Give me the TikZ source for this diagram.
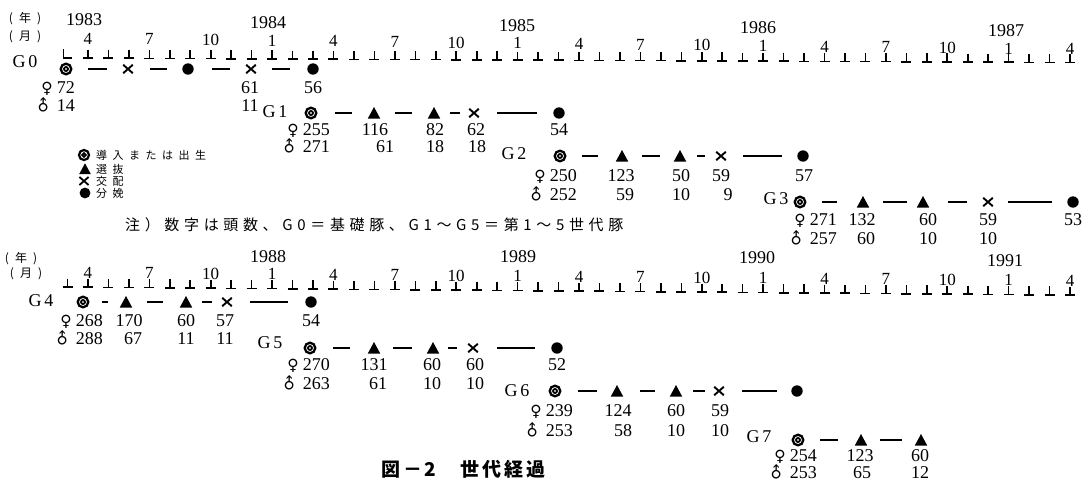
\documentclass[tikz,border=0pt]{standalone}
\usepackage{fontspec}
\usepackage{graphicx}
\usetikzlibrary{calc}
\setmainfont{Liberation Serif}
\newfontfamily\jpfont{Noto Sans CJK JP}
\newfontfamily\jplegend[LetterSpace=50]{Noto Sans CJK JP}
\newfontfamily\jpnote[LetterSpace=31]{Noto Sans CJK JP}
\newfontfamily\jpcap[LetterSpace=15]{Noto Sans CJK JP}
\newfontfamily\symfont{DejaVu Sans}
\newcommand\femsym{{\symfont\fontsize{15.5}{15.5}\selectfont ♀}}
\newcommand\malsym{{\symfont\fontsize{15.5}{15.5}\selectfont\rotatebox[origin=c]{45}{♂}}}
\newcommand\dashc[4]{\draw[dl, shorten <=#3pt, shorten >=#4pt] (#1.center) -- (#2.center);}
\def\symsc{1}
\tikzset{
  num/.style={inner sep=0pt, anchor=base, font=\fontsize{18}{18}\selectfont},
  sexl/.style={inner sep=0pt, anchor=base east, font=\fontsize{18}{18}\selectfont},
  glab/.style={inner sep=0pt, font=\fontsize{18}{18}\selectfont},
  yearl/.style={inner sep=0pt, font=\fontsize{18}{18}\selectfont},
  monl/.style={inner sep=0pt, font=\fontsize{17}{17}\selectfont},
  unitl/.style={inner sep=0pt, font=\jpfont\fontsize{12}{12}\selectfont},
  legl/.style={inner sep=0pt, anchor=west, font=\jplegend\fontsize{11}{11}\selectfont},
  sym/.style={rectangle, minimum width=16pt, minimum height=16pt, inner sep=0pt},
  ring/.style={sym, path picture={
    \draw[line width=\symsc*2.3pt] (path picture bounding box.center) circle[radius=\symsc*5.3pt];
    \draw[line width=\symsc*1.8pt] (path picture bounding box.center) circle[radius=\symsc*2.0pt];}},
  tri/.style={sym, path picture={
    \fill ($(path picture bounding box.center)+({-6.2pt*\symsc},{-5.5pt*\symsc})$) -- ++({12.4pt*\symsc},0pt) -- ++({-6.2pt*\symsc},{11.5pt*\symsc}) -- cycle;}},
  crs/.style={sym, path picture={
    \draw[line width=\symsc*1.9pt] ($(path picture bounding box.center)+({-4.8pt*\symsc},{-4.2pt*\symsc})$) -- ($(path picture bounding box.center)+({4.8pt*\symsc},{4.2pt*\symsc})$)
      ($(path picture bounding box.center)+({-4.8pt*\symsc},{4.2pt*\symsc})$) -- ($(path picture bounding box.center)+({4.8pt*\symsc},{-4.2pt*\symsc})$);}},
  dot/.style={sym, path picture={
    \fill (path picture bounding box.center) circle[radius=\symsc*5.7pt];}},
  tick/.style={line width=1.6pt},
  dl/.style={line width=1.7pt},
}
\begin{document}
\begin{tikzpicture}[x=1pt,y=-1pt]
\useasboundingbox[fill=white] (0,0) rectangle (1086,482);

% ---------- top time axis ----------
\node[unitl] (ny1) at (25,19) {(\hspace{6pt}年\hspace{6pt})};
\node[unitl] (nm1) at (25,37) {(\hspace{6pt}月\hspace{6pt})};
\node[yearl] (y83) at (84,20) {1983};
\node[yearl] (y84) at (268,23) {1984};
\node[yearl] (y85) at (517,26) {1985};
\node[yearl] (y86) at (758,28) {1986};
\node[yearl] (y87) at (1006,31) {1987};
\draw[tick] (63.5,49) -- (63.5,58) -- (72,58);
\foreach \k in {1,...,49}{
  \pgfmathsetmacro\tx{67.5+20.46*\k}
  \pgfmathsetmacro\ty{58+0.0045*(\tx-65)}
  \draw[tick] (\tx,\ty-8.5) -- (\tx,\ty) (\tx-5,\ty) -- (\tx+5,\ty);
}
\foreach \k/\m in {1/4,4/7,7/10,10/1,13/4,16/7,19/10,22/1,25/4,28/7,31/10,34/1,37/4,40/7,43/10,46/1,49/4}{
  \pgfmathsetmacro\tx{67.5+20.46*\k}
  \pgfmathsetmacro\ty{38.5+0.011*(\tx-88)}
  \node[monl] (tm\k) at (\tx,\ty) {\m};
}

% ---------- bottom time axis ----------
\node[unitl] (ny2) at (21,259) {(\hspace{6pt}年\hspace{6pt})};
\node[unitl] (nm2) at (26,274) {(\hspace{6pt}月\hspace{6pt})};
\node[yearl] (y88) at (268,257) {1988};
\node[yearl] (y89) at (518,257) {1989};
\node[yearl] (y90) at (757,258) {1990};
\node[yearl] (y91) at (1005,261) {1991};
\foreach \k in {0,...,49}{
  \pgfmathsetmacro\tx{67.5+20.46*\k}
  \pgfmathsetmacro\ty{287+0.008*(\tx-65)}
  \draw[tick] (\tx,\ty-8.5) -- (\tx,\ty) (\tx-5,\ty) -- (\tx+5,\ty);
}
\foreach \k/\m in {1/4,4/7,7/10,10/1,13/4,16/7,19/10,22/1,25/4,28/7,31/10,34/1,37/4,40/7,43/10,46/1,49/4}{
  \pgfmathsetmacro\tx{67.5+20.46*\k}
  \pgfmathsetmacro\ty{272.5+0.0085*(\tx-86)}
  \node[monl] (bm\k) at (\tx,\ty) {\m};
}

% ---------- G0 ----------
\node[glab] (G0) at (25,62) {G\,0};
\node[ring] (g0s1) at (66,69) {};
\node[crs]  (g0s2) at (128,69) {};
\node[dot]  (g0s3) at (188,69) {};
\node[crs]  (g0s4) at (251,69) {};
\node[dot]  (g0s5) at (313,69) {};
\dashc{g0s1}{g0s2}{22}{21} \dashc{g0s2}{g0s3}{22}{21}
\dashc{g0s3}{g0s4}{24}{21} \dashc{g0s4}{g0s5}{21}{23}
\node[sexl] (g0f) at (75,93) {\femsym\hspace{4pt}72};
\node[sexl] (g0m) at (75,111) {\malsym\hspace{4pt}14};
\node[num] (g0a) at (250,93) {61};
\node[num] (g0b) at (250,111) {11};
\node[num] (g0c) at (313,93) {56};

% ---------- G1 ----------
\node[glab] (G1) at (275,112) {G\,1};
\node[ring] (g1s1) at (311,113) {};
\node[tri]  (g1s2) at (374,113) {};
\node[tri]  (g1s3) at (434,113) {};
\node[crs]  (g1s4) at (474,113) {};
\node[dot]  (g1s5) at (559,113) {};
\dashc{g1s1}{g1s2}{24}{22} \dashc{g1s2}{g1s3}{21}{22}
\dashc{g1s3}{g1s4}{16}{14} \dashc{g1s4}{g1s5}{23}{22}
\node[sexl] (g1f) at (330,135) {\femsym\hspace{4pt}255};
\node[sexl] (g1m) at (330,152) {\malsym\hspace{4pt}271};
\node[num] (g1a) at (375,135) {116};
\node[num] (g1b) at (385,152) {61};
\node[num] (g1c) at (435,135) {82};
\node[num] (g1d) at (435,152) {18};
\node[num] (g1e) at (476,135) {62};
\node[num] (g1g) at (477,152) {18};
\node[num] (g1h) at (559,135) {54};

% ---------- G2 ----------
\node[glab] (G2) at (514,154) {G\,2};
\node[ring] (g2s1) at (560,156) {};
\node[tri]  (g2s2) at (622,156) {};
\node[tri]  (g2s3) at (680,156) {};
\node[crs]  (g2s4) at (721,156) {};
\node[dot]  (g2s5) at (803,156) {};
\dashc{g2s1}{g2s2}{22}{24} \dashc{g2s2}{g2s3}{20}{20}
\dashc{g2s3}{g2s4}{17}{16} \dashc{g2s4}{g2s5}{22}{21}
\node[sexl] (g2f) at (577,181) {\femsym\hspace{4pt}250};
\node[sexl] (g2m) at (577,200) {\malsym\hspace{4pt}252};
\node[num] (g2a) at (621,181) {123};
\node[num] (g2b) at (625,200) {59};
\node[num] (g2c) at (681,181) {50};
\node[num] (g2d) at (681,200) {10};
\node[num] (g2e) at (721,181) {59};
\node[num] (g2g) at (728,200) {9};
\node[num] (g2h) at (804,181) {57};

% ---------- G3 ----------
\node[glab] (G3) at (776,199) {G\,3};
\node[ring] (g3s1) at (800,202) {};
\node[tri]  (g3s2) at (863,202) {};
\node[tri]  (g3s3) at (923,202) {};
\node[crs]  (g3s4) at (988,202) {};
\node[dot]  (g3s5) at (1073,202) {};
\dashc{g3s1}{g3s2}{22}{26} \dashc{g3s2}{g3s3}{20}{16}
\dashc{g3s3}{g3s4}{25}{21} \dashc{g3s4}{g3s5}{20}{21}
\node[sexl] (g3f) at (837,225) {\femsym\hspace{4pt}271};
\node[sexl] (g3m) at (837,244) {\malsym\hspace{4pt}257};
\node[num] (g3a) at (862,225) {132};
\node[num] (g3b) at (866,244) {60};
\node[num] (g3c) at (928,225) {60};
\node[num] (g3d) at (928,244) {10};
\node[num] (g3e) at (988,225) {59};
\node[num] (g3g) at (988,244) {10};
\node[num] (g3h) at (1073,225) {53};

% ---------- legend and note ----------
\begin{scope}
\def\symsc{0.95}
\node[ring] (lg1) at (84,155) {};
\node[tri]  (lg2) at (85,169) {};
\node[crs]  (lg3) at (84,181) {};
\node[dot]  (lg4) at (85,193) {};
\end{scope}
\node[legl] (lt1) at (96,155) {導入または出生};
\node[legl] (lt2) at (96,169) {選抜};
\node[legl] (lt3) at (96,181) {交配};
\node[legl] (lt4) at (96,193) {分娩};
\node[inner sep=0pt, anchor=west, font=\jpnote\fontsize{15}{15}\selectfont] (note) at (125,225)
  {注）数字は頭数、G0＝基礎豚、G1～G5＝第1～5世代豚};

% ---------- G4 ----------
\node[glab] (G4) at (41,301) {G\,4};
\node[ring] (g4s1) at (83,302) {};
\node[tri]  (g4s2) at (126,302) {};
\node[tri]  (g4s3) at (186,302) {};
\node[crs]  (g4s4) at (227,302) {};
\node[dot]  (g4s5) at (311,302) {};
\dashc{g4s1}{g4s2}{19}{18} \dashc{g4s2}{g4s3}{21}{23}
\dashc{g4s3}{g4s4}{16}{15} \dashc{g4s4}{g4s5}{23}{23}
\node[sexl] (g4f) at (103,326) {\femsym\hspace{4pt}268};
\node[sexl] (g4m) at (103,344) {\malsym\hspace{4pt}288};
\node[num] (g4a) at (129,326) {170};
\node[num] (g4b) at (133,344) {67};
\node[num] (g4c) at (186,326) {60};
\node[num] (g4d) at (186,344) {11};
\node[num] (g4e) at (225,326) {57};
\node[num] (g4g) at (225,344) {11};
\node[num] (g4h) at (311,326) {54};

% ---------- G5 ----------
\node[glab] (G5) at (270,343) {G\,5};
\node[ring] (g5s1) at (310,348) {};
\node[tri]  (g5s2) at (374,348) {};
\node[tri]  (g5s3) at (433,348) {};
\node[crs]  (g5s4) at (473,348) {};
\node[dot]  (g5s5) at (557,348) {};
\dashc{g5s1}{g5s2}{23}{24} \dashc{g5s2}{g5s3}{19}{21}
\dashc{g5s3}{g5s4}{15}{16} \dashc{g5s4}{g5s5}{24}{22}
\node[sexl] (g5f) at (330,370) {\femsym\hspace{4pt}270};
\node[sexl] (g5m) at (330,389) {\malsym\hspace{4pt}263};
\node[num] (g5a) at (374,370) {131};
\node[num] (g5b) at (378,389) {61};
\node[num] (g5c) at (432,370) {60};
\node[num] (g5d) at (432,389) {10};
\node[num] (g5e) at (475,370) {60};
\node[num] (g5g) at (475,389) {10};
\node[num] (g5h) at (557,370) {52};

% ---------- G6 ----------
\node[glab] (G6) at (517,391) {G\,6};
\node[ring] (g6s1) at (555,391) {};
\node[tri]  (g6s2) at (617,391) {};
\node[tri]  (g6s3) at (676,391) {};
\node[crs]  (g6s4) at (719,391) {};
\node[dot]  (g6s5) at (797,391) {};
\dashc{g6s1}{g6s2}{23}{20} \dashc{g6s2}{g6s3}{23}{21}
\dashc{g6s3}{g6s4}{17}{14} \dashc{g6s4}{g6s5}{23}{20}
\node[sexl] (g6f) at (573,416) {\femsym\hspace{4pt}239};
\node[sexl] (g6m) at (573,436) {\malsym\hspace{4pt}253};
\node[num] (g6a) at (618,416) {124};
\node[num] (g6b) at (623,436) {58};
\node[num] (g6c) at (676,416) {60};
\node[num] (g6d) at (676,436) {10};
\node[num] (g6e) at (720,416) {59};
\node[num] (g6g) at (720,436) {10};

% ---------- G7 ----------
\node[glab] (G7) at (759,437) {G\,7};
\node[ring] (g7s1) at (798,440) {};
\node[tri]  (g7s2) at (861,440) {};
\node[tri]  (g7s3) at (921,440) {};
\dashc{g7s1}{g7s2}{22}{23} \dashc{g7s2}{g7s3}{19}{19}
\node[sexl] (g7f) at (817,461) {\femsym\hspace{4pt}254};
\node[sexl] (g7m) at (817,478) {\malsym\hspace{4pt}253};
\node[num] (g7a) at (860,461) {123};
\node[num] (g7b) at (862,478) {65};
\node[num] (g7c) at (920,461) {60};
\node[num] (g7d) at (920,478) {12};

% ---------- caption ----------
\node[inner sep=0pt, anchor=west, font=\jpcap\bfseries\fontsize{19}{19}\selectfont] (cap) at (381,469)
  {図－2\hspace{24pt}世代経過};
\end{tikzpicture}
\end{document}
